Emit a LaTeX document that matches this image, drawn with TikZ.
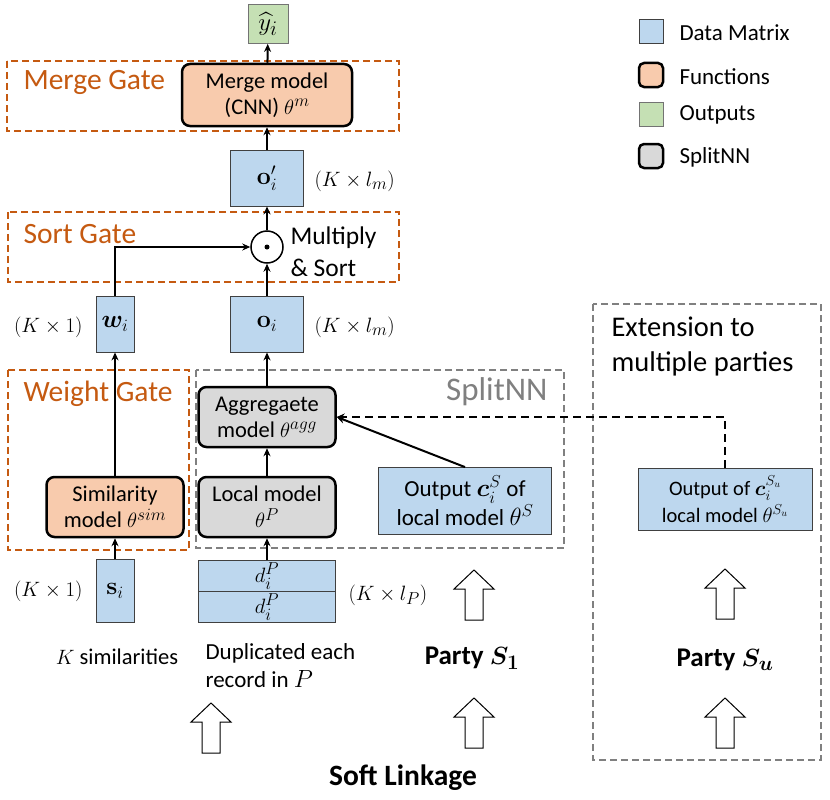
\documentclass[tikz,border=0pt]{standalone}
\usepackage[no-math]{fontspec}
\setmainfont{Carlito}
\usepackage{amsmath,bm}
\usetikzlibrary{arrows.meta}
\renewcommand{\defaultscriptratio}{.76}
\definecolor{datablue}{RGB}{189,215,238}
\definecolor{funcorange}{RGB}{248,203,173}
\definecolor{outgreen}{RGB}{197,224,180}
\definecolor{splitgray}{RGB}{217,217,217}
\definecolor{gateorange}{RGB}{197,90,17}
\newcommand{\fsz}[2]{\fontsize{#1}{#2}\selectfont}
\def\hollowup(#1,#2){\draw[line width=1pt,fill=white] (#1-9,#2) -- (#1+9,#2) -- (#1+9,#2-31) -- (#1+20,#2-31) -- (#1,#2-50) -- (#1-20,#2-31) -- (#1-9,#2-31) -- cycle;}

\begin{document}
\begin{tikzpicture}[x=1pt,y=-1pt,
	data/.style={draw=black!75,line width=0.8pt,fill=datablue,inner sep=0pt,align=center,font=\fsz{23}{27}},
	func/.style={draw=black,line width=2.5pt,rounded corners=8pt,fill=funcorange,inner sep=0pt,align=center,font=\fsz{22.5}{26}},
	split/.style={func,fill=splitgray},
	outbox/.style={draw=black!55,line width=0.8pt,fill=outgreen,inner sep=0pt},
	gate/.style={draw=gateorange,line width=1.6pt,dash pattern=on 7pt off 4pt},
	frame/.style={draw=black!50,line width=1.6pt,dash pattern=on 7pt off 4pt},
	flow/.style={line width=2pt,-{Stealth[length=8pt,width=7pt]}},
	gatelabel/.style={anchor=west,text=gateorange,font=\fsz{29.5}{34}},
	dims/.style={font=\fsz{22}{26}},
	txt/.style={font=\fsz{22.5}{28},align=left}]
			\useasboundingbox (0,0) rectangle (830,800);
			
			%%%%% gates and frames %%%%%
			\draw[gate] (7,61) rectangle (399,131);
			\draw[gate] (8,212) rectangle (399,282);
			\draw[gate] (8,370) rectangle (189,550);
			\draw[frame] (196,370) rectangle (564,548);
			\draw[frame] (593,304) rectangle (821,760);
			
			\node[gatelabel] (mergelbl) at (20,82) {Merge Gate};
			\node[gatelabel] (sortlbl) at (20,234) {Sort Gate};
			\node[gatelabel] (weightlbl) at (20,394) {Weight Gate};
			\node[anchor=east,text=black!50,font=\fsz{33}{38}] (splitlbl) at (551,392) {SplitNN};
			
			%%%%% blocks %%%%%
			\node[outbox,minimum width=40,minimum height=39] (yhat) at (268,24) {\fsz{27}{30}$\widehat{y}_i$};
			\node[func,minimum width=170,minimum height=62] (merge) at (267,95) {Merge model\\(CNN) $\theta^{m}$};
			\node[data,minimum width=73,minimum height=56] (oprime) at (267,178) {$\mathbf{o}_i'$};
			\node[draw,circle,line width=1.5pt,minimum size=32,inner sep=0pt] (mult) at (267,247) {};
			\fill (mult.center) circle (2.5pt);
			\node[data,minimum width=38,minimum height=56] (wi) at (115,324) {$\bm{w}_i$};
			\node[data,minimum width=73,minimum height=56] (oi) at (267,324) {$\mathbf{o}_i$};
			\node[split,minimum width=137,minimum height=60] (agg) at (267,417) {Aggregaete\\model $\theta^{agg}$};
			\node[split,minimum width=137,minimum height=60] (local) at (267,507) {Local model\\$\theta^{P}$};
			\node[func,minimum width=137,minimum height=60] (sim) at (115,507) {Similarity\\model $\theta^{sim}$};
			\node[data,minimum width=173,minimum height=67,font=\fsz{23}{29}] (cs) at (465,501) {Output $\bm{c}_i^{S}$ of\\local model $\theta^{S}$};
			\node[data,minimum width=38,minimum height=63] (si) at (115,591) {$\mathbf{s}_i$};
			\node[data,minimum width=137,minimum height=31,font=\fsz{21}{23}] (dtop) at (267,576) {$d_i^{P}$};
			\node[data,minimum width=137,minimum height=31,font=\fsz{21}{23}] (dbot) at (267,607) {$d_i^{P}$};
			\node[data,minimum width=174,minimum height=62,font=\fsz{20.5}{27}] (csu) at (725,499) {Output of $\bm{c}_i^{S_u}$\\local model $\theta^{S_u}$};
			
			%%%%% sizes and notes %%%%%
			\node[dims,anchor=west] (dimoprime) at (311,181) {$(K\times l_m)$};
			\node[dims,anchor=west] (dimoi) at (311,327) {$(K\times l_m)$};
			\node[dims,anchor=east] (dimwi) at (86,327) {$(K\times 1)$};
			\node[dims,anchor=east] (dimsi) at (86,591) {$(K\times 1)$};
			\node[dims,anchor=west] (dimd) at (345,595) {$(K\times l_P)$};
			\node[txt,anchor=west,font=\fsz{25.5}{32}] (multlbl) at (287,252) {Multiply\\\& Sort};
			\node[txt,anchor=center] (ksim) at (117,657) {$K$ similarities};
			\node[txt,anchor=west,font=\fsz{23}{28}] (dup) at (202,666) {Duplicated each\\record in $P$};
			\node[font=\bfseries\fsz{27}{30}] (party1) at (472,658) {Party $\bm{S_1}$};
			\node[font=\bfseries\fsz{27}{30}] (partyu) at (725,660) {Party $\bm{S_u}$};
			\node[font=\bfseries\fsz{29.5}{34}] (soft) at (403,778) {Soft Linkage};
			\node[anchor=west,align=left,font=\fsz{28.5}{35}] (ext) at (608,346) {Extension to\\multiple parties};
			
			%%%%% legend %%%%%
			\node[data,minimum size=24] (legdata) at (651,31) {};
			\node[func,minimum size=24,rounded corners=5pt] (legfunc) at (651,75) {};
			\node[outbox,minimum size=24] (legout) at (651,114) {};
			\node[split,minimum size=24,rounded corners=5pt] (legsplit) at (651,156) {};
			\node[font=\fsz{23}{27},anchor=west] (legdatalbl) at (676,33) {Data Matrix};
			\node[font=\fsz{23}{27},anchor=west] (legfunclbl) at (676,77) {Functions};
			\node[font=\fsz{23}{27},anchor=west] (legoutlbl) at (676,115) {Outputs};
			\node[font=\fsz{23}{27},anchor=west] (legsplitlbl) at (676,157) {SplitNN};
			
			%%%%% connectors %%%%%
			\draw[flow] (merge) -- (yhat);
			\draw[flow] (oprime) -- (merge);
			\draw[flow] (mult) -- (oprime);
			\draw[flow] (oi) -- (mult);
			\draw[flow] (wi.north) |- (mult.west);
			\draw[flow] (sim) -- (wi);
			\draw[flow] (si) -- (sim);
			\draw[flow] (agg) -- (oi);
			\draw[flow] (local) -- (agg);
			\draw[flow] (dtop) -- (local);
			\draw[flow] (cs.north) -- (agg.east);
			\draw[flow,dash pattern=on 8pt off 5pt] (csu.north) |- (agg.east);
			
			\hollowup(211,753)
			\hollowup(474,620)
			\hollowup(474,748)
			\hollowup(725,619)
			\hollowup(725,748)
\end{tikzpicture}
\end{document}
